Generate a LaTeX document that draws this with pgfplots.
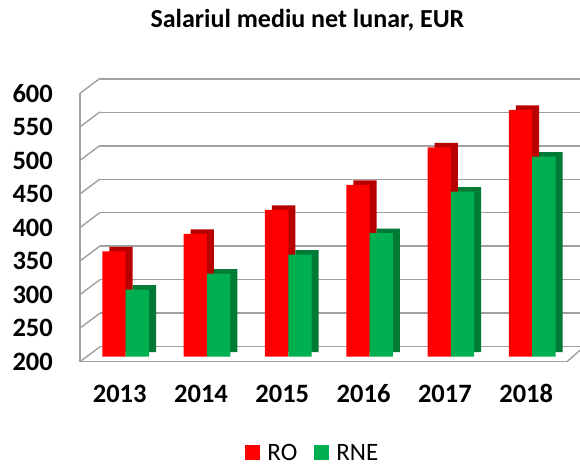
\documentclass[border=0pt]{standalone}
\usepackage{pgfplots}
\pgfplotsset{compat=1.18}
\usepackage{fontspec}
\setmainfont{Carlito}
\definecolor{ro}{HTML}{FF0000}
\definecolor{rodark}{HTML}{B80000}
\definecolor{rne}{HTML}{00B050}
\definecolor{rnedark}{HTML}{007A35}
\definecolor{gridg}{HTML}{A0A0A0}
\begin{document}
\begin{tikzpicture}[x=1pt,y=1pt]
\path[use as bounding box] (0,0) rectangle (580,467);
% back wall
\begin{axis}[at={(100pt,120.5pt)}, anchor=south west, scale only axis,
  width=480pt, height=267.5pt, xmin=0, xmax=1, ymin=200, ymax=600,
  ytick={200,250,...,600}, yticklabels={}, xtick=\empty,
  major tick length=0pt, ymajorgrids,
  grid style={gridg, line width=1.4pt},
  axis line style={draw=none}]
\addplot[draw=none] coordinates {(0,200) (1,600)};
\end{axis}
% front frame with labels
\begin{axis}[at={(80pt,105.3pt)}, anchor=south west, scale only axis,
  width=487pt, height=268.4pt, xmin=-0.562, xmax=5.428, ymin=200, ymax=600,
  separate axis lines, axis x line*=bottom, axis y line*=left,
  axis line style={gridg, line width=1.4pt},
  ytick={200,250,...,600}, xtick={0,...,5},
  xticklabels={2013,2014,2015,2016,2017,2018},
  major tick length=0pt, clip=false,
  /pgf/number format/assume math mode=true,
  yticklabel style={anchor=east, inner sep=0pt, xshift=-27pt, font=\bfseries\fontsize{26.5}{30}\selectfont},
  xticklabel style={anchor=base, inner sep=0pt, yshift=-41pt, xshift=-6pt, font=\bfseries\fontsize{26.5}{30}\selectfont},
  title={Salariul mediu net lunar, EUR},
  title style={at={(0.467,1)}, anchor=base, yshift=60pt, inner sep=0pt, font=\bfseries\fontsize{26}{30}\selectfont}]
\addplot[draw=none] coordinates {(0,200) (5,600)};
\pgfplotsinvokeforeach{200,250,...,600}{
  \draw[gridg, line width=1.4pt] (axis cs:-0.562,#1) -- ++(20pt,15pt);
}
\draw[gridg, line width=1.4pt] (axis cs:5.428,200) -- ++(13pt,11.5pt);
\end{axis}
% bars
\begin{axis}[at={(80pt,110.3pt)}, anchor=south west, scale only axis,
  width=487pt, height=268.4pt, xmin=-0.562, xmax=5.428, ymin=200, ymax=600,
  hide axis, ybar, bar width=0.287,
  legend style={at={(0.477,-0.360)}, anchor=center, draw=none, fill=none,
    inner sep=0pt, nodes={inner sep=1pt},
    legend columns=2, font=\fontsize{25}{28}\selectfont,
    /tikz/every even column/.append style={column sep=16pt}},
  legend image code/.code={\fill[#1] (0pt,-7pt) rectangle (15pt,8pt);}]
\addplot[fill=rodark, draw=none, bar shift=-0.1435, xshift=7pt, yshift=4.5pt, forget plot]
  coordinates {(0,357) (1,383) (2,419) (3,456) (4,512) (5,568)};
\addplot[fill=ro, draw=none, bar shift=-0.1435]
  coordinates {(0,357) (1,383) (2,419) (3,456) (4,512) (5,568)};
\addplot[fill=rnedark, draw=none, bar shift=0.1435, xshift=7pt, yshift=4.5pt, forget plot]
  coordinates {(0,300) (1,324) (2,352) (3,384) (4,446) (5,498)};
\addplot[fill=rne, draw=none, bar shift=0.1435]
  coordinates {(0,300) (1,324) (2,352) (3,384) (4,446) (5,498)};
\legend{\hspace{6pt}RO,\hspace{6pt}RNE}
\end{axis}
\end{tikzpicture}
\end{document}
